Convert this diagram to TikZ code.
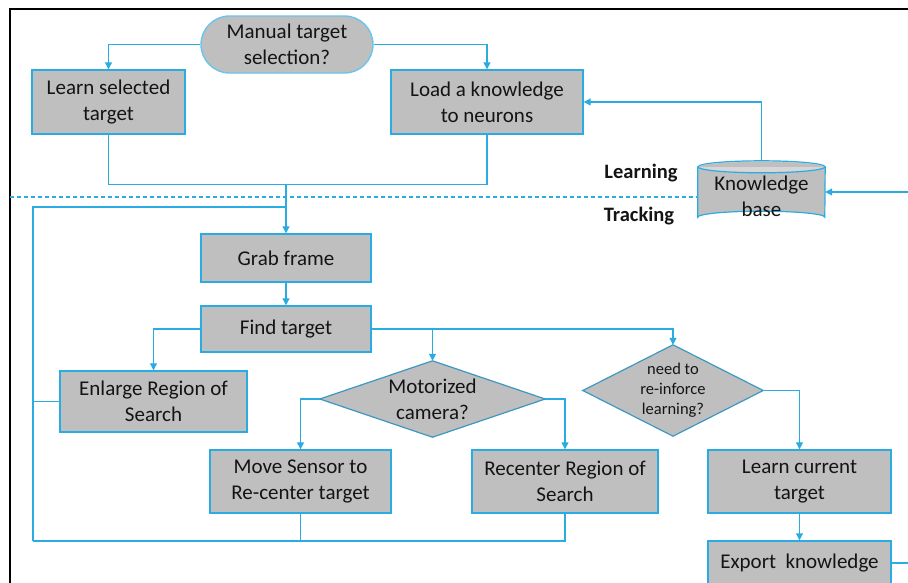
\documentclass[tikz,border=0pt]{standalone}
\usepackage{fontspec}
\setmainfont{Carlito}
\usetikzlibrary{arrows.meta,calc}
\definecolor{bblue}{HTML}{2AACE2}
\definecolor{dblue}{HTML}{3C98C2}
\definecolor{bgray}{HTML}{BFBFBF}
\definecolor{lgray}{HTML}{D6D6D6}
\definecolor{txt}{HTML}{141414}
\begin{document}
\begin{tikzpicture}[x=1pt,y=-1pt,
  box/.style={draw=bblue,fill=bgray,line width=1.4pt,inner sep=0pt,align=center,
    text=txt,font=\fontsize{21}{26}\selectfont},
  dia/.style={inner sep=0pt,align=center,text=txt},
  conn/.style={draw=bblue,line width=1.2pt},
  arr/.style={conn,-{Triangle[length=7pt,width=7pt]}},
  lbl/.style={font=\fontsize{20.5}{24}\selectfont\bfseries,text=txt}
]
\useasboundingbox (0,0) rectangle (908,582);
% frame
\draw[line width=2pt,black] (10,583) -- (10,9) -- (909,9);
% dashed separator
\draw[bblue,line width=1.1pt,dash pattern=on 4pt off 3pt] (10,197) -- (698,197);

% nodes
\node[box,draw=bblue!70,rounded corners=28.5pt,minimum width=172pt,minimum height=57pt] (term) at (287,44.5) {Manual target\\selection?};
\node[box,minimum width=153pt,minimum height=64pt] (lst) at (108.5,102) {Learn selected\\target};
\node[box,minimum width=192pt,minimum height=64pt] (load) at (487,102) {Load a knowledge\\to neurons};
\node[box,minimum width=170pt,minimum height=48pt] (grab) at (286,258) {Grab frame};
\node[box,minimum width=170pt,minimum height=46pt] (find) at (286,329) {Find target};
\node[box,minimum width=187pt,minimum height=61pt] (enl) at (153.5,401.5) {Enlarge Region of\\Search};
\node[box,minimum width=181pt,minimum height=63pt] (move) at (300.5,481.5) {Move Sensor to\\Re-center target};
\node[box,minimum width=186pt,minimum height=63pt] (rec) at (565,481.5) {Recenter Region of\\Search};
\node[box,minimum width=183pt,minimum height=63pt] (lc) at (799.5,481.5) {Learn current\\target};
\node[box,minimum width=183pt,minimum height=44pt] (exp) at (799.5,563) {Export\ \ knowledge};

% diamonds
\node[dia,minimum width=225pt,minimum height=76pt] (mot) at (432.5,399) {};
\fill[bgray] (mot.west) -- (mot.north) -- (mot.east) -- (mot.south) -- cycle;
\draw[dblue,line width=1.2pt,line join=miter] (mot.west) -- (mot.north) -- (mot.east) -- (mot.south) -- cycle;
\node[dia,font=\fontsize{21}{26}\selectfont] at (mot.center) {Motorized\\camera?};
\node[dia,minimum width=180pt,minimum height=91pt] (need) at (673,390.5) {};
\fill[bgray] (need.west) -- (need.north) -- (need.east) -- (need.south) -- cycle;
\draw[dblue,line width=1.2pt] (need.west) -- (need.north) -- (need.east) -- (need.south) -- cycle;
\node[dia,font=\fontsize{16.5}{20}\selectfont] at (need.center) {need to\\re-inforce\\learning?};

% knowledge base cylinder
\node[inner sep=0pt,minimum width=127pt,minimum height=62pt] (kb) at (761.5,192) {};
\fill[bgray] ($(kb.north west)+(0,6)$) -- ($(kb.south west)+(0,-6)$)
  arc[start angle=180,end angle=360,x radius=63.5pt,y radius=-6pt]
  -- ($(kb.north east)+(0,6)$) -- cycle;
\draw[bblue,line width=1.2pt] ($(kb.north west)+(0,6)$) -- ($(kb.south west)+(0,-6)$)
  arc[start angle=180,end angle=360,x radius=63.5pt,y radius=-6pt]
  -- ($(kb.north east)+(0,6)$);
\draw[bblue,fill=lgray,line width=1.2pt] ($(kb.north)+(0,6)$) ellipse[x radius=63.5pt,y radius=6pt];
\fill[bgray] ($(kb.north west)+(1,6)$) arc[start angle=180,end angle=360,x radius=62.5pt,y radius=-5pt] -- cycle;
\node[inner sep=0pt,align=center,text=txt,font=\fontsize{21}{26}\selectfont] (kbtext) at ($(kb.center)+(0,4)$) {Knowledge\\base};
\coordinate (kbtop) at (kb.north);

% labels
\node[lbl] (learn) at (641,173) {Learning};
\node[lbl] (track) at (639,216) {Tracking};

% connectors
\coordinate (merge) at (286,184);
\coordinate (looptop) at (286,207);
\coordinate (lt) at (33,207);
\coordinate (lb) at (33,541);
\coordinate (rin) at (909,192);
\coordinate (rout) at (909,563);

\draw[arr] (term.west) -| (lst.north);
\draw[arr] (term.east) -| (load.north);
\draw[conn] (lst.south) -- ++(0,50) -| (load.south);
\draw[arr] (merge) -- (grab.north);
\draw[conn] (looptop) -- (lt) -- (lb);
\draw[conn] (rec.south) |- (lb);
\draw[conn] (move.south) -- (move.south |- lb);
\draw[conn] (enl.west) -- (enl.west -| lt);
\draw[arr] (grab.south) -- (find.north);
\draw[arr] (find.west) -| (enl.north);
\draw[arr] (find.east) -| (mot.north);
\draw[arr] (find.east) -| (need.north);
\draw[arr] (mot.west) -| (move.north);
\draw[arr] (mot.east) -| (rec.north);
\draw[arr] (need.east) -| (lc.north);
\draw[arr] (lc.south) -- (exp.north);
\draw[conn] (exp.east) -- (rout);
\draw[arr] (kbtop) |- (load.east);
\draw[arr] (rin) -- (kb.east);
\end{tikzpicture}
\end{document}
